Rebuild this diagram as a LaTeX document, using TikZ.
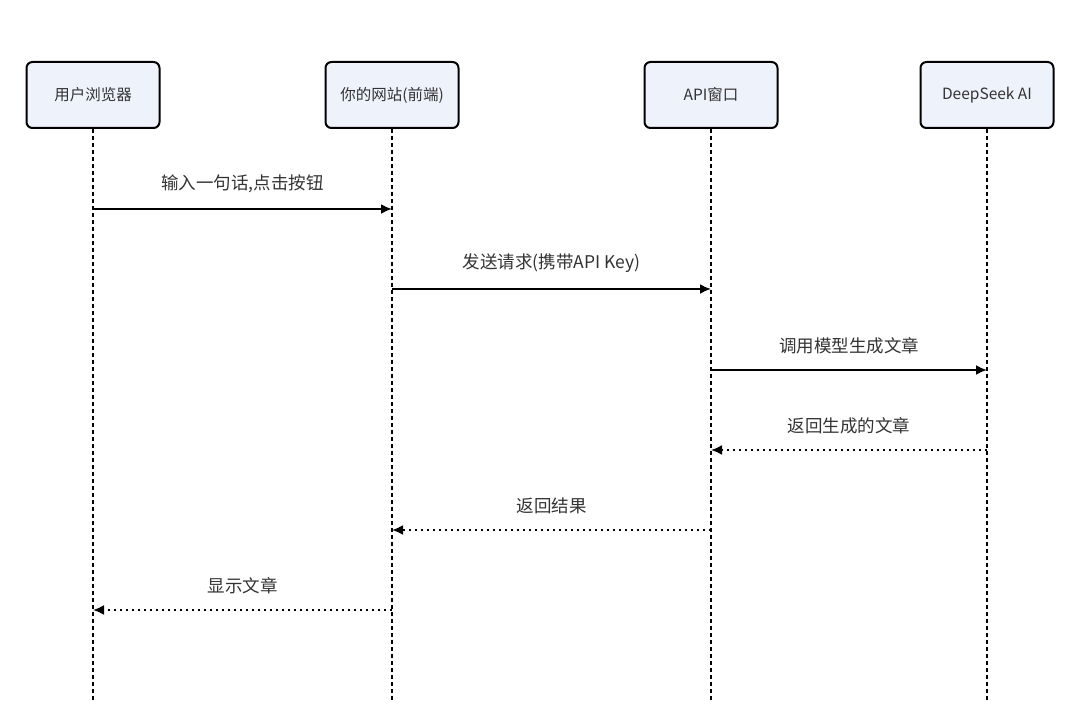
\documentclass[tikz,border=0pt]{standalone}
\usepackage{fontspec}
\setmainfont{Noto Sans CJK SC}
\usetikzlibrary{arrows.meta}

\definecolor{boxfill}{HTML}{EEF2FB}
\definecolor{txt}{HTML}{333333}

\tikzstyle{actor}=[draw=black,line width=2pt,rounded corners=6pt,fill=boxfill,minimum width=133pt,minimum height=66pt,text=txt,font=\fontsize{15.5}{18}\selectfont]
\tikzstyle{life}=[line width=2pt,dash pattern=on 4pt off 3pt]
\tikzstyle{call}=[line width=2pt,-{Latex[length=11pt,width=10pt]}]
\tikzstyle{reply}=[line width=2pt,dash pattern=on 2pt off 4pt,-{Latex[length=11pt,width=10pt]}]
\tikzstyle{msg}=[above=15pt,inner sep=0pt,text=txt,font=\fontsize{17.5}{21}\selectfont]

\begin{document}
\begin{tikzpicture}[x=1pt,y=-1pt]
  \useasboundingbox[fill=white] (0,0) rectangle (1080,727);
  % participants
  \node (browser) [actor] at (93,95) {用户浏览器};
  \node (site) [actor] at (392,95) {你的网站(前端)};
  \node (api) [actor] at (711,95) {API窗口};
  \node (ds) [actor] at (987,95) {DeepSeek AI};
  \coordinate (end) at (0,700);
  % lifelines
  \draw[life] (browser.south) -- (browser |- end);
  \draw[life] (site.south) -- (site |- end);
  \draw[life] (api.south) -- (api |- end);
  \draw[life] (ds.south) -- (ds |- end);
  % message rows
  \coordinate (m1) at (0,209);
  \coordinate (m2) at (0,289);
  \coordinate (m3) at (0,370);
  \coordinate (m4) at (0,450);
  \coordinate (m5) at (0,530);
  \coordinate (m6) at (0,610);
  \draw[call] (browser |- m1) -- node[msg] {输入一句话,点击按钮} (site |- m1);
  \draw[call] (site |- m2) -- node[msg] {发送请求(携带API Key)} (api |- m2);
  \draw[call] (api |- m3) -- node[msg] {调用模型生成文章} (ds |- m3);
  \draw[reply] (ds |- m4) -- node[msg] {返回生成的文章} (api |- m4);
  \draw[reply] (api |- m5) -- node[msg] {返回结果} (site |- m5);
  \draw[reply] (site |- m6) -- node[msg] {显示文章} (browser |- m6);
\end{tikzpicture}
\end{document}
